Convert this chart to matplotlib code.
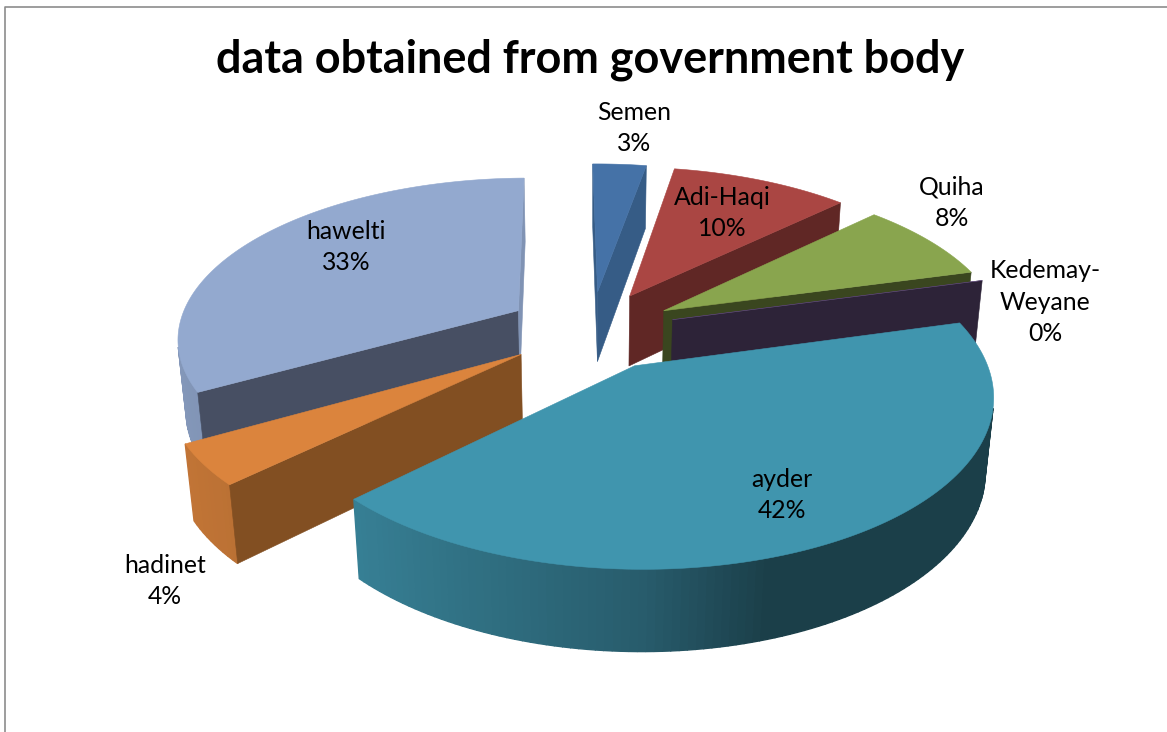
import numpy as np
import matplotlib
matplotlib.use("Agg")
from matplotlib import pyplot as plt
from matplotlib.patches import Polygon

# share of records per sub-city, clockwise from twelve o'clock
names = ["Semen", "Adi-Haqi", "Quiha", "Kedemay-\nWeyane", "ayder", "hadinet", "hawelti"]
shares = [3, 10, 8, 0, 42, 4, 33]
top_colors = ["#4572A7", "#AA4643", "#89A54E", "#71588F", "#4095AE", "#DB843D", "#93A9CF"]
wall_colors = ["#365C86", "#602725", "#3A461F", "#2D2338", "#1F4D5A", "#824F22", "#474F63"]
title = "data obtained from government body"

# where each label sits, in pixels
label_x = [634, 722, 952, 1045, 782, 165, 346]
label_y = [128, 213, 203, 302, 495, 581, 247]

# camera for the tilted disc
cx, cy = 591, 330
rx, ry = 341, 159
persp = 0.157
persp_down = 0.02
height = 73
explode = 0.25
first_angle = np.radians(-0.8)


def project(X, Z, d=0.0):
    # d is 0 on the top face and 1 on the bottom face
    w = 1 + persp * Z + persp_down * d
    return cx + rx * X / w, cy - (ry * Z - height * d) / w


def rim_shade(s):
    # side of the pie gets darker going left to right
    return np.interp(s, [-1, -0.74, 0, 0.3, 1], [0.9, 0.86, 0.62, 0.42, 0.42])


def front_facing(pts):
    xs = np.array([p[0] for p in pts])
    ys = np.array([p[1] for p in pts])
    return 0.5 * np.sum(xs * np.roll(ys, -1) - np.roll(xs, -1) * ys)


def draw_wedge(ax, start, end, top, wall):
    mid = (start + end) / 2
    ox, oz = explode * np.sin(mid), explode * np.cos(mid)
    th = np.linspace(start, end, max(int((end - start) * 50), 2))
    ax_x = ox + np.sin(th)
    ax_z = oz + np.cos(th)

    # outer rim, only the parts turned to the viewer
    rgb = np.array(matplotlib.colors.to_rgb(top))
    for i in range(len(th) - 1):
        quad = [project(ax_x[i], ax_z[i]), project(ax_x[i + 1], ax_z[i + 1]),
                project(ax_x[i + 1], ax_z[i + 1], 1), project(ax_x[i], ax_z[i], 1)]
        if front_facing(quad) < 0:
            c = rgb * rim_shade(np.sin((th[i] + th[i + 1]) / 2))
            ax.add_patch(Polygon(quad, closed=True, fc=c, ec=c, lw=1.0))

    # the two flat cut faces
    for t, sign in ((start, 1), (end, -1)):
        ex, ez = ox + np.sin(t), oz + np.cos(t)
        quad = [project(ox, oz), project(ex, ez), project(ex, ez, 1), project(ox, oz, 1)]
        if sign * front_facing(quad) < 0:
            # an end face turned almost straight sideways catches the light
            c = rgb * 0.87 if sign < 0 and np.cos(t) > 0.99 else wall
            ax.add_patch(Polygon(quad, closed=True, fc=c, ec=c, lw=0.4))

    # top face
    th_fine = np.linspace(start, end, max(int((end - start) * 150), 2))
    pts = [project(ox, oz)] + [project(ox + np.sin(t), oz + np.cos(t)) for t in th_fine]
    ax.add_patch(Polygon(pts, closed=True, fc=top, ec=top, lw=0.4))


fig = plt.figure(figsize=(11.67, 7.32), dpi=100)
ax = fig.add_axes([0, 0, 1, 1])
ax.set_xlim(0, 1167)
ax.set_ylim(732, 0)
ax.axis("off")

# chart frame, cut by the page on the right and bottom
ax.plot([5, 5, 1167], [732, 7, 7], color="#8c8c8c", lw=1.2)

bounds = first_angle + np.cumsum([0] + shares) / sum(shares) * 2 * np.pi
order = sorted(range(len(shares)), key=lambda i: -np.cos((bounds[i] + bounds[i + 1]) / 2))
for i in order:
    draw_wedge(ax, bounds[i], bounds[i + 1], top_colors[i], wall_colors[i])

ax.text(590, 60, title, ha="center", va="center", fontsize=32.4, fontweight="bold",
        family="Lato", color="black")
for i in range(len(names)):
    ax.text(label_x[i], label_y[i], f"{names[i]}\n{shares[i]}%", ha="center", va="center",
            fontsize=17.8, family="Lato", color="black", linespacing=1.47)

fig.savefig("out.png", dpi=100)
